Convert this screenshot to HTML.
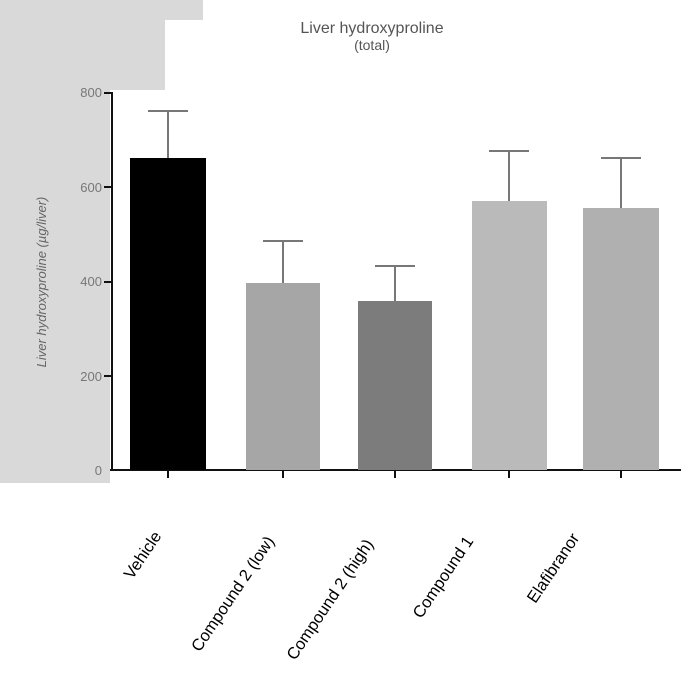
<!DOCTYPE html>
<html><head><meta charset="utf-8"><style>
html,body{margin:0;padding:0;background:#fff;}
svg{display:block;font-family:"Liberation Sans",Arial,sans-serif;}
</style></head><body>
<svg width="681" height="681" viewBox="0 0 681 681">
<rect x="0" y="0" width="110" height="483" fill="#d9d9d9"/>
<rect x="0" y="0" width="165" height="90" fill="#d9d9d9"/>
<rect x="0" y="0" width="203" height="20" fill="#d9d9d9"/>
<text x="372" y="33" font-size="16" text-anchor="middle" fill="#555">Liver hydroxyproline</text>
<text x="372" y="50" font-size="14" text-anchor="middle" fill="#555">(total)</text>
<text transform="translate(46,282) rotate(-90)" font-size="13" text-anchor="middle" fill="#666" font-style="italic">Liver hydroxyproline (µg/liver)</text>
<g font-size="13" fill="#777" text-anchor="end">
<text x="102" y="97">800</text><text x="102" y="192">600</text><text x="102" y="286">400</text><text x="102" y="381">200</text><text x="102" y="475">0</text>
</g>
<g stroke="#111" stroke-width="2">
<line x1="112" y1="92" x2="112" y2="471"/>
<line x1="110" y1="470" x2="681" y2="470"/>
<line x1="104" y1="93" x2="112" y2="93"/><line x1="104" y1="187" x2="112" y2="187"/><line x1="104" y1="282" x2="112" y2="282"/><line x1="104" y1="376" x2="112" y2="376"/>
<line x1="168" y1="470" x2="168" y2="478"/><line x1="283" y1="470" x2="283" y2="478"/><line x1="395" y1="470" x2="395" y2="478"/><line x1="509" y1="470" x2="509" y2="478"/><line x1="621" y1="470" x2="621" y2="478"/>
</g>
<g stroke="#777" stroke-width="2">
<line x1="168" y1="158" x2="168" y2="111"/><line x1="148" y1="111" x2="188" y2="111"/>
<line x1="283" y1="283" x2="283" y2="241"/><line x1="263" y1="241" x2="303" y2="241"/>
<line x1="395" y1="301" x2="395" y2="266"/><line x1="375" y1="266" x2="415" y2="266"/>
<line x1="509" y1="201" x2="509" y2="151"/><line x1="489" y1="151" x2="529" y2="151"/>
<line x1="621" y1="208" x2="621" y2="158"/><line x1="601" y1="158" x2="641" y2="158"/>
</g>
<rect x="130" y="158" width="76" height="312" fill="#000"/>
<rect x="246" y="283" width="74" height="187" fill="#a6a6a6"/>
<rect x="358" y="301" width="74" height="169" fill="#7c7c7c"/>
<rect x="472" y="201" width="75" height="269" fill="#bababa"/>
<rect x="583" y="208" width="76" height="262" fill="#b0b0b0"/>
<g font-size="16.5" fill="#000" text-anchor="end">
<text transform="translate(162,536) rotate(-56)">Vehicle</text>
<text transform="translate(275,541) rotate(-56)">Compound 2 (low)</text>
<text transform="translate(374,544) rotate(-56)">Compound 2 (high)</text>
<text transform="translate(474,541) rotate(-56)">Compound 1</text>
<text transform="translate(580,538) rotate(-56)">Elafibranor</text>
</g>
</svg>
</body></html>
